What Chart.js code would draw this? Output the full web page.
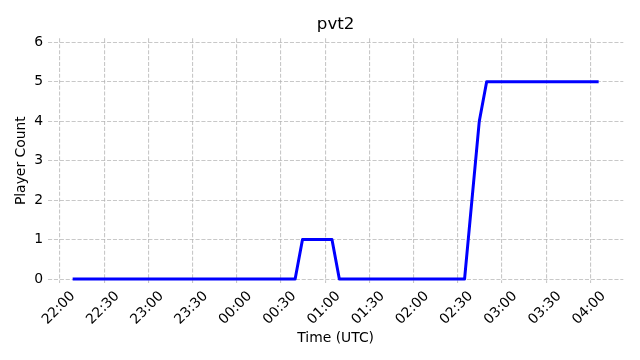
<!DOCTYPE html>
<html>
<head>
<meta charset="utf-8">
<script src="https://cdn.jsdelivr.net/npm/chart.js@4"></script>
<style>
html,body{margin:0;padding:0;background:#fff;}
canvas{display:block;}
</style>
</head>
<body>
<canvas id="c" width="640" height="360"></canvas>
<script>
// ---- data ----
const chartTitle = "pvt2";
const xAxisTitle = "Time (UTC)";
const yAxisTitle = "Player Count";
const times  = ["22:09:36", "00:39:36", "00:44:36", "01:04:36", "01:09:36", "02:34:36", "02:44:36", "02:49:36", "04:04:36"];
const counts = [0, 0, 1, 1, 0, 0, 4, 5, 5];
const xTickLabels = ["22:00","22:30","23:00","23:30","00:00","00:30","01:00","01:30","02:00","02:30","03:00","03:30","04:00"];
const yTickValues = [0, 1, 2, 3, 4, 5, 6];
const yLimits = [-0.1, 6.1];

// minutes since 22:00 (wrapping past midnight)
function toMin(s) {
  const p = s.split(':').map(Number);
  let t = p[0] * 60 + p[1] + (p[2] || 0) / 60 - 22 * 60;
  if (t < -60) t += 1440;
  return t;
}
function fmt(m) {
  let t = Math.round(m) + 22 * 60;
  t = ((t % 1440) + 1440) % 1440;
  const h = Math.floor(t / 60), mm = t % 60;
  return String(h).padStart(2, '0') + ':' + String(mm).padStart(2, '0');
}

const pts = times.map((t, i) => ({x: toMin(t), y: counts[i]}));
const xVals = pts.map(p => p.x);
const xMinData = Math.min(...xVals), xMaxData = Math.max(...xVals);
const span = xMaxData - xMinData;
const xTickValues = xTickLabels.map(toMin);

const FONT = "'DejaVu Sans', sans-serif";
const gridColor = 'rgba(176,176,176,0.7)';

new Chart(document.getElementById('c'), {
  type: 'line',
  data: {
    datasets: [{
      data: pts,
      borderColor: '#0000ff',
      borderWidth: 3,
      borderCapStyle: 'square',
      borderJoinStyle: 'round',
      pointRadius: 0,
      tension: 0,
      fill: false
    }]
  },
  options: {
    responsive: false,
    animation: false,
    devicePixelRatio: 1,
    layout: {padding: {left: 0, right: 16.7, top: 0, bottom: 0}},
    plugins: {
      legend: {display: false},
      tooltip: {enabled: false},
      title: {
        display: true,
        fullSize: false,
        text: chartTitle,
        color: '#000',
        font: {family: FONT, size: 16.7, weight: 'normal'},
        padding: {top: 15, bottom: 3.3}
      }
    },
    scales: {
      x: {
        type: 'linear',
        min: xMinData - 0.05 * span,
        max: xMaxData + 0.05 * span,
        afterBuildTicks: s => { s.ticks = xTickValues.map(v => ({value: v})); },
        afterFit: s => { s.height = 77; },
        border: {display: false, dash: [4.1, 1.8]},
        grid: {color: gridColor, lineWidth: 1.1, drawTicks: false},
        ticks: {
          autoSkip: false,
          maxRotation: 45,
          minRotation: 45,
          padding: 5,
          labelOffset: 13,
          color: '#000',
          font: {family: FONT, size: 13.9},
          callback: v => fmt(v)
        },
        title: {
          display: true,
          text: xAxisTitle,
          color: '#000',
          font: {family: FONT, size: 13.9},
          padding: {top: 0, bottom: 13.7}
        }
      },
      y: {
        type: 'linear',
        min: yLimits[0],
        max: yLimits[1],
        afterBuildTicks: s => { s.ticks = yTickValues.map(v => ({value: v})); },
        afterFit: s => { s.width = 48; },
        border: {display: false, dash: [4.1, 1.8]},
        grid: {color: gridColor, lineWidth: 1.1, drawTicks: false},
        ticks: {
          padding: 5,
          color: '#000',
          font: {family: FONT, size: 13.9},
          callback: v => String(v)
        },
        title: {
          display: true,
          text: yAxisTitle,
          color: '#000',
          font: {family: FONT, size: 13.9},
          padding: {top: 12.7, bottom: 0}
        }
      }
    }
  }
});
</script>
</body>
</html>
